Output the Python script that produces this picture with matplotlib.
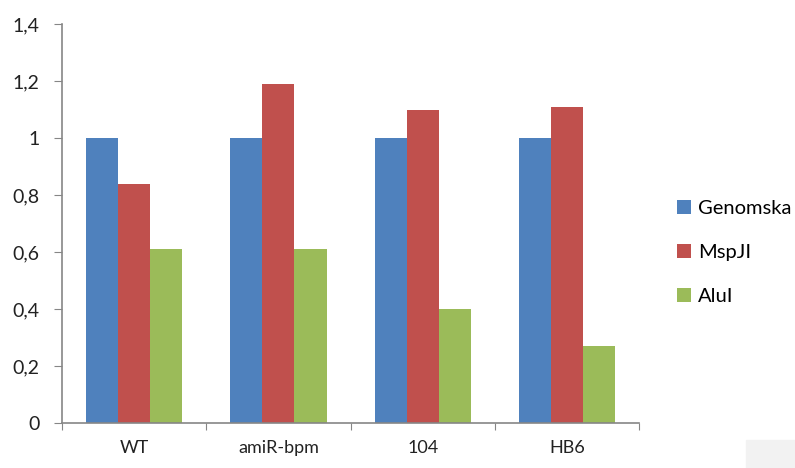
import matplotlib.pyplot as plt
import matplotlib.patches as mpatches
import numpy as np

categories = ['WT', 'amiR-bpm', '104', 'HB6']
series_names = ['Genomska', 'MspJI', 'AluI']
genomska = [1.0, 1.0, 1.0, 1.0]
mspji = [0.84, 1.19, 1.10, 1.11]
alui = [0.61, 0.61, 0.40, 0.27]
colors = ['#4F81BD', '#C0504D', '#9BBB59']
yticks = [0, 0.2, 0.4, 0.6, 0.8, 1.0, 1.2, 1.4]
ytick_labels = ['0', '0,2', '0,4', '0,6', '0,8', '1', '1,2', '1,4']

plt.rcParams['font.family'] = ['Lato', 'DejaVu Sans']
axis_color = '#868686'

fig = plt.figure(figsize=(7.95, 4.68), dpi=100)
ax = fig.add_axes([0.078, 0.0955, 0.726, 0.853])

x = np.arange(len(categories)) + 0.5
w = 1 / 4.5
for i, vals in enumerate([genomska, mspji, alui]):
    ax.bar(x + (i - 1) * w, vals, width=w, color=colors[i], label=series_names[i])

ax.set_xlim(0, len(categories))
ax.set_ylim(0, 1.4)
ax.set_yticks(yticks)
ax.set_yticklabels(ytick_labels, fontsize=14, color='#222222')
ax.set_xticks(np.arange(len(categories) + 1))
ax.set_xticklabels([])
ax.set_xticks(x, minor=True)
ax.set_xticklabels(categories, minor=True, fontsize=13, color='#222222')
ax.tick_params(axis='x', which='minor', length=0, pad=12)
ax.tick_params(axis='x', which='major', length=5, color=axis_color, direction='out')
ax.tick_params(axis='y', length=6, color=axis_color, direction='out', pad=10)

for s in ['top', 'right']:
    ax.spines[s].set_visible(False)
for s in ['left', 'bottom']:
    ax.spines[s].set_color(axis_color)
    ax.spines[s].set_linewidth(1.2)

fig.legend(loc='center left', bbox_to_anchor=(0.829, 0.46), frameon=False,
           fontsize=14.5, handlelength=0.7, handleheight=0.7, handletextpad=0.35,
           labelspacing=1.33)

fig.patches.append(mpatches.Rectangle((0.938, 0.0), 0.062, 0.06, transform=fig.transFigure,
                                      color='#f2f2f2', zorder=-1))

plt.savefig('out.png', dpi=100)
